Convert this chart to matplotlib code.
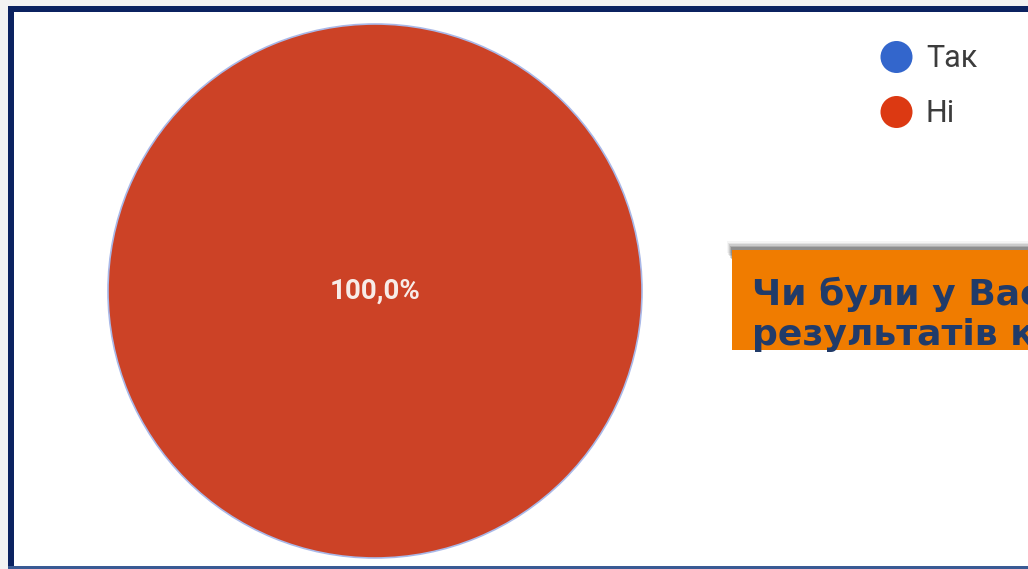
import matplotlib
matplotlib.use("Agg")
import matplotlib.pyplot as plt
from matplotlib.patches import Rectangle, Circle

labels = ["Так", "Ні"]
values = [0.0, 100.0]
legend_colors = ["#3366CC", "#DC3912"]
pie_color = "#CC4226"
question_lines = ["Чи були у Вас скарги щодо", "результатів конкурсу?"]

W, H = 1028, 569
fig = plt.figure(figsize=(W / 100, H / 100), dpi=100)
fig.patch.set_facecolor("white")

# background axes in pixel coordinates
bg = fig.add_axes([0, 0, 1, 1])
bg.set_xlim(0, W)
bg.set_ylim(H, 0)
bg.axis("off")

# light grey outer area + white panel
bg.add_patch(Rectangle((0, 0), W, H, facecolor="#F2F2F2", edgecolor="none", zorder=0))
bg.add_patch(Rectangle((14, 12), W, H - 14, facecolor="white", edgecolor="none", zorder=1))
# navy frame
bg.add_patch(Rectangle((8, 6), W + 20, 6, facecolor="#0B2260", edgecolor="none", zorder=2))
bg.add_patch(Rectangle((8, 6), 6, H, facecolor="#0B2260", edgecolor="none", zorder=2))
bg.add_patch(Rectangle((8, 566), W, 3, facecolor="#3A5A94", edgecolor="none", zorder=2))

# orange box with soft shadow
for i, a in enumerate([0.04, 0.07, 0.10, 0.14, 0.18]):
    bg.add_patch(Rectangle((727 + i, 241 + i * 1.6), W, 12, facecolor="black",
                           alpha=a, edgecolor="none", zorder=3))
bg.add_patch(Rectangle((732, 250), W, 100, facecolor="#F07C00", edgecolor="none", zorder=4))
for i, (line, yb) in enumerate(zip(question_lines, [305, 345])):
    bg.text(752, yb, line, fontsize=26, fontweight="bold", color="#213B69",
            family="DejaVu Sans", va="baseline", ha="left", zorder=5)

# legend
for i, (lab, col) in enumerate(zip(labels, legend_colors)):
    y = 57 + i * 55
    bg.add_patch(Circle((896.5, y), 16, facecolor=col, edgecolor="none", zorder=5))
    bg.text(926, y + 1, lab, fontsize=22, color="#3C3C3C", family="Roboto",
            va="center", ha="left", zorder=5)

# pie
cx, cy, r = 375, 291, 267
pax = fig.add_axes([(cx - r) / W, (H - cy - r) / H, 2 * r / W, 2 * r / H])
pax.set_zorder(6)
pax.patch.set_alpha(0)
vals = [v for v in values if v > 0]
cols = [pie_color] * len(vals)
wedges, texts, autotexts = pax.pie(
    vals, colors=cols, startangle=90, counterclock=False,
    autopct=lambda p: f"{p:.1f}%".replace(".", ","), pctdistance=0.0,
    wedgeprops=dict(edgecolor="#A9B8E8", linewidth=1.2),
    textprops=dict(color="#F7ECE8", fontsize=20, family="Roboto", fontweight="bold"))
pax.set_xlim(-1.0, 1.0)
pax.set_ylim(-1.0, 1.0)
pax.set_aspect("equal")
pax.axis("off")

fig.savefig("out.png", dpi=100)
